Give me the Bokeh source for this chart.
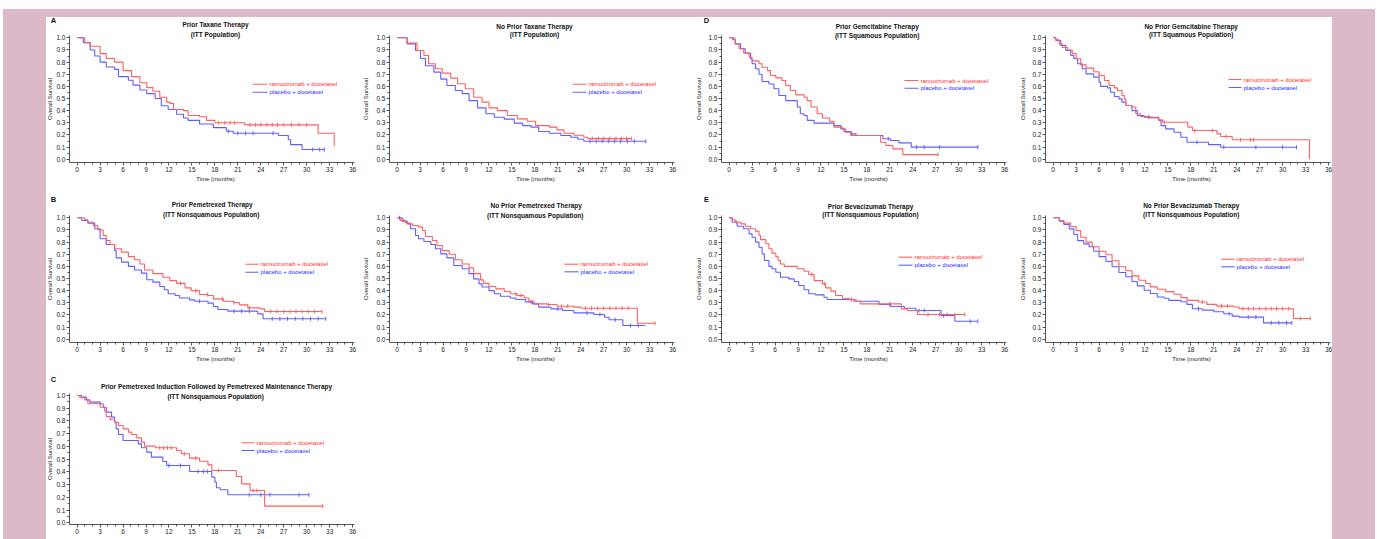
import numpy as np
from math import pi
from bokeh.plotting import figure
from bokeh.layouts import row, column
from bokeh.models import Spacer, Label, FixedTicker, PrintfTickFormatter
from bokeh.embed import file_html
from bokeh.resources import INLINE

# ---------------- data (months, survival) ----------------
LEGEND_RAM = "ramucirumab + docetaxel"
LEGEND_PBO = "placebo + docetaxel"
X_TICKS = list(range(0, 37, 3))
Y_TICKS = [round(0.1 * i, 1) for i in range(11)]

# A: Prior Taxane Therapy
taxp_ram_t = [1.0, 1.7, 3.0, 3.8, 4.9, 6.0, 7.1, 8.2, 9.1, 9.9, 10.8, 11.7, 12.1, 12.6, 13.9, 14.5, 16.0, 16.9, 18.0, 21.9, 31.5, 33.6]
taxp_ram_s = [0.96, 0.93, 0.87, 0.83, 0.80, 0.73, 0.68, 0.63, 0.59, 0.56, 0.51, 0.47, 0.46, 0.41, 0.40, 0.36, 0.35, 0.32, 0.30, 0.283, 0.214, 0.107]
taxp_ram_end = 33.6
taxp_ram_cens = [18.5, 19.3, 20.0, 20.6, 22.6, 23.3, 24.0, 24.8, 25.5, 26.2, 27.0, 28.0, 29.0, 30.0]
taxp_pbo_t = [0.8, 1.7, 2.3, 3.0, 3.8, 4.9, 5.4, 6.7, 7.3, 8.2, 9.1, 10.2, 11.0, 11.9, 13.0, 13.9, 14.5, 16.0, 17.8, 19.5, 20.4, 26.3, 27.6, 27.9, 29.4]
taxp_pbo_s = [0.96, 0.90, 0.85, 0.80, 0.76, 0.74, 0.68, 0.65, 0.61, 0.57, 0.54, 0.50, 0.44, 0.41, 0.37, 0.34, 0.32, 0.29, 0.26, 0.23, 0.214, 0.195, 0.16, 0.12, 0.08]
taxp_pbo_end = 32.3
taxp_pbo_cens = [19.8, 21.0, 22.0, 23.0, 25.6, 30.8, 31.7, 32.3]

# No Prior Taxane Therapy
taxn_ram_t = [1.3, 2.6, 3.5, 4.1, 5.0, 5.9, 7.0, 7.9, 8.9, 10.0, 11.1, 12.0, 13.1, 14.4, 15.7, 17.0, 18.1, 19.9, 20.9, 21.8, 23.1, 24.4, 24.9]
taxn_ram_s = [0.956, 0.896, 0.854, 0.786, 0.745, 0.709, 0.668, 0.621, 0.58, 0.51, 0.47, 0.423, 0.40, 0.36, 0.332, 0.313, 0.277, 0.264, 0.242, 0.214, 0.198, 0.181, 0.17]
taxn_ram_end = 30.6
taxn_ram_cens = [25.5, 26.3, 27.0, 27.8, 28.6, 29.3, 30.0, 30.6]
taxn_pbo_t = [1.3, 2.4, 3.05, 3.7, 4.8, 5.7, 6.5, 7.6, 8.5, 9.4, 10.5, 11.6, 12.7, 14.0, 15.3, 16.4, 17.5, 18.5, 19.9, 21.4, 22.7, 23.6, 24.4]
taxn_pbo_s = [0.95, 0.896, 0.83, 0.77, 0.717, 0.66, 0.607, 0.566, 0.54, 0.483, 0.423, 0.374, 0.346, 0.33, 0.297, 0.277, 0.264, 0.228, 0.214, 0.195, 0.181, 0.165, 0.148]
taxn_pbo_end = 32.5
taxn_pbo_cens = [25.2, 26.0, 26.8, 27.6, 28.4, 29.2, 30.1, 31.0, 32.5]

# D: Prior Gemcitabine Therapy
gemp_ram_t = [0.4, 0.8, 1.3, 1.9, 2.6, 3.0, 3.9, 4.3, 5.0, 5.4, 6.1, 6.9, 7.4, 8.0, 8.7, 9.8, 10.2, 10.7, 11.5, 12.2, 13.1, 13.7, 14.8, 15.2, 15.9, 19.8, 20.5, 21.4, 22.7]
gemp_ram_s = [0.984, 0.95, 0.91, 0.874, 0.84, 0.81, 0.786, 0.758, 0.73, 0.69, 0.67, 0.648, 0.607, 0.566, 0.53, 0.51, 0.483, 0.43, 0.374, 0.34, 0.313, 0.264, 0.25, 0.222, 0.195, 0.14, 0.113, 0.085, 0.038]
gemp_ram_end = 27.3
gemp_ram_cens = [27.3]
gemp_pbo_t = [0.6, 0.8, 1.5, 2.1, 2.8, 3.0, 3.45, 3.9, 4.3, 5.2, 5.85, 6.5, 7.4, 8.9, 9.3, 9.8, 10.2, 11.1, 13.7, 14.6, 15.0, 15.9, 16.6, 20.1, 21.1, 22.2, 23.8]
gemp_pbo_s = [0.99, 0.95, 0.91, 0.874, 0.827, 0.786, 0.745, 0.70, 0.64, 0.62, 0.58, 0.525, 0.483, 0.43, 0.374, 0.36, 0.32, 0.297, 0.277, 0.25, 0.228, 0.209, 0.195, 0.168, 0.154, 0.135, 0.10]
gemp_pbo_end = 32.5
gemp_pbo_cens = [16.0, 20.8, 24.5, 25.5, 27.5, 32.5]

# No Prior Gemcitabine Therapy
gemn_ram_t = [0.35, 0.8, 1.2, 1.9, 2.5, 3.0, 3.6, 4.3, 5.3, 6.0, 6.7, 7.3, 8.0, 8.4, 9.0, 9.3, 9.5, 10.3, 10.8, 11.4, 12.7, 13.8, 14.3, 17.6, 18.2, 21.4, 21.9, 23.4, 33.5]
gemn_ram_s = [0.984, 0.95, 0.92, 0.90, 0.87, 0.827, 0.777, 0.75, 0.72, 0.69, 0.648, 0.607, 0.588, 0.566, 0.525, 0.497, 0.442, 0.43, 0.374, 0.352, 0.34, 0.324, 0.305, 0.264, 0.236, 0.209, 0.187, 0.16, 0.0]
gemn_ram_end = 33.5
gemn_ram_cens = [6.0, 14.5, 18.5, 20.8, 22.6, 24.5, 25.8, 26.2]
gemn_pbo_t = [0.35, 1.0, 1.65, 2.3, 2.7, 3.2, 3.8, 4.3, 5.3, 6.0, 6.2, 7.1, 7.5, 8.0, 8.6, 9.0, 9.5, 10.3, 11.0, 11.9, 13.8, 14.1, 14.7, 15.8, 16.7, 17.5, 20.3, 21.9]
gemn_pbo_s = [0.978, 0.937, 0.896, 0.854, 0.827, 0.786, 0.745, 0.703, 0.676, 0.635, 0.60, 0.588, 0.552, 0.516, 0.497, 0.47, 0.442, 0.40, 0.36, 0.346, 0.319, 0.277, 0.25, 0.222, 0.181, 0.14, 0.12, 0.099]
gemn_pbo_end = 31.8
gemn_pbo_cens = [12.5, 18.8, 22.3, 26.5, 30.0, 31.8]

# B: Prior Pemetrexed Therapy
pemp_ram_t = [1.0, 1.4, 2.1, 2.7, 3.4, 3.8, 4.3, 4.9, 5.8, 6.7, 7.5, 8.2, 8.8, 9.9, 11.2, 12.1, 13.0, 14.1, 14.9, 16.0, 17.1, 17.8, 19.1, 20.4, 21.2, 22.3, 23.9, 24.5]
pemp_ram_s = [0.984, 0.964, 0.937, 0.90, 0.854, 0.813, 0.78, 0.745, 0.717, 0.68, 0.654, 0.62, 0.57, 0.54, 0.51, 0.483, 0.46, 0.423, 0.40, 0.368, 0.36, 0.332, 0.313, 0.302, 0.283, 0.258, 0.25, 0.228]
pemp_ram_end = 32.0
pemp_ram_cens = [13.5, 15.5, 17.0, 19.0, 20.5, 22.5, 25.3, 26.1, 27.0, 27.8, 28.6, 29.4, 30.2, 31.0, 32.0]
pemp_pbo_t = [0.6, 1.4, 2.3, 3.0, 3.8, 4.9, 5.1, 5.8, 6.7, 7.5, 8.4, 9.1, 9.9, 10.8, 11.4, 11.9, 12.8, 13.4, 14.7, 15.4, 17.1, 17.8, 18.4, 19.7, 23.6, 24.3]
pemp_pbo_s = [0.978, 0.956, 0.91, 0.827, 0.78, 0.73, 0.67, 0.635, 0.60, 0.57, 0.544, 0.49, 0.47, 0.434, 0.407, 0.374, 0.36, 0.34, 0.324, 0.313, 0.297, 0.27, 0.245, 0.231, 0.209, 0.168]
pemp_pbo_end = 32.5
pemp_pbo_cens = [16.0, 20.5, 21.5, 22.5, 25.5, 26.5, 27.5, 28.5, 29.5, 30.5, 31.5, 32.5]

# No Prior Pemetrexed Therapy
pemn_ram_t = [0.4, 1.1, 1.5, 2.0, 2.8, 3.3, 3.7, 4.6, 5.2, 5.9, 6.8, 7.6, 8.5, 9.4, 10.0, 10.9, 11.3, 12.0, 12.9, 14.0, 14.8, 15.7, 16.6, 17.2, 17.9, 19.6, 20.9, 23.1, 24.0, 31.4]
pemn_ram_s = [0.978, 0.96, 0.95, 0.937, 0.923, 0.896, 0.846, 0.813, 0.772, 0.73, 0.70, 0.654, 0.62, 0.588, 0.54, 0.489, 0.46, 0.434, 0.415, 0.393, 0.374, 0.36, 0.34, 0.313, 0.291, 0.286, 0.272, 0.264, 0.255, 0.132]
pemn_ram_end = 33.7
pemn_ram_cens = [0.8, 15.5, 16.2, 19.8, 21.5, 22.3, 24.6, 25.4, 26.2, 27.0, 27.8, 28.6, 29.4, 30.2, 33.7]
pemn_pbo_t = [0.65, 1.3, 1.75, 2.4, 2.8, 3.5, 4.4, 5.0, 5.7, 6.5, 7.4, 8.5, 9.4, 10.0, 10.7, 11.1, 12.0, 12.7, 13.5, 14.8, 15.5, 16.8, 17.7, 18.5, 20.1, 21.6, 23.1, 25.7, 27.1, 27.7, 29.5]
pemn_pbo_s = [0.973, 0.95, 0.91, 0.854, 0.827, 0.805, 0.78, 0.745, 0.703, 0.67, 0.607, 0.58, 0.54, 0.497, 0.456, 0.43, 0.40, 0.374, 0.354, 0.34, 0.327, 0.308, 0.291, 0.264, 0.25, 0.236, 0.217, 0.203, 0.181, 0.16, 0.113]
pemn_pbo_end = 32.4
pemn_pbo_cens = [0.3, 17.5, 21.0, 24.8, 26.5, 28.5, 30.5, 31.5]

# E: Prior Bevacizumab Therapy
bevp_ram_t = [0.4, 0.8, 1.5, 2.1, 2.8, 3.45, 3.9, 4.1, 4.8, 5.2, 5.6, 6.1, 6.4, 6.7, 7.2, 8.9, 9.8, 10.4, 11.1, 12.2, 12.6, 13.3, 13.9, 14.8, 15.7, 16.6, 17.2, 22.5, 23.3, 24.6]
bevp_ram_s = [0.984, 0.964, 0.95, 0.93, 0.91, 0.89, 0.854, 0.82, 0.786, 0.745, 0.709, 0.68, 0.648, 0.62, 0.60, 0.58, 0.56, 0.533, 0.483, 0.456, 0.423, 0.396, 0.36, 0.338, 0.327, 0.313, 0.291, 0.25, 0.236, 0.203]
bevp_ram_end = 30.8
bevp_ram_cens = [1.0, 10.8, 12.5, 16.0, 21.0, 26.0, 27.5, 28.5, 29.5, 30.8]
bevp_pbo_t = [0.4, 1.05, 1.9, 2.6, 3.0, 3.45, 3.9, 4.3, 4.6, 5.2, 5.6, 6.1, 6.7, 7.8, 8.5, 9.1, 9.8, 10.4, 11.3, 12.4, 12.8, 16.3, 19.6, 21.1, 22.9, 24.4, 27.7, 29.5]
bevp_pbo_s = [0.964, 0.93, 0.91, 0.868, 0.84, 0.80, 0.758, 0.703, 0.648, 0.60, 0.58, 0.552, 0.51, 0.497, 0.475, 0.442, 0.407, 0.374, 0.365, 0.346, 0.327, 0.313, 0.286, 0.269, 0.255, 0.236, 0.195, 0.148]
bevp_pbo_end = 32.5
bevp_pbo_cens = [16.0, 21.0, 24.8, 25.5, 28.0, 31.5, 32.5]

# No Prior Bevacizumab Therapy
bevn_ram_t = [0.8, 1.4, 2.3, 3.0, 3.6, 4.3, 5.1, 6.0, 6.9, 7.7, 8.6, 9.5, 10.3, 11.2, 12.1, 12.7, 13.6, 14.7, 15.8, 16.7, 17.5, 19.0, 20.1, 21.4, 23.6, 24.3, 31.4]
bevn_ram_s = [0.978, 0.956, 0.928, 0.895, 0.84, 0.80, 0.762, 0.724, 0.696, 0.646, 0.597, 0.564, 0.522, 0.486, 0.459, 0.431, 0.412, 0.392, 0.37, 0.343, 0.32, 0.307, 0.287, 0.273, 0.265, 0.251, 0.171]
bevn_ram_end = 33.6
bevn_ram_cens = [19.5, 22.0, 22.8, 24.8, 25.5, 26.2, 27.0, 27.8, 28.5, 29.2, 30.0, 30.8, 32.3, 33.6]
bevn_pbo_t = [0.8, 1.4, 2.1, 2.7, 3.2, 4.0, 4.7, 5.3, 6.0, 6.9, 7.7, 8.6, 9.5, 10.3, 11.0, 11.9, 12.7, 13.6, 14.5, 15.1, 16.7, 17.5, 18.2, 19.5, 21.0, 22.3, 23.4, 24.3, 27.5]
bevn_pbo_s = [0.972, 0.945, 0.909, 0.862, 0.812, 0.785, 0.762, 0.724, 0.68, 0.64, 0.597, 0.55, 0.514, 0.475, 0.439, 0.403, 0.376, 0.348, 0.337, 0.32, 0.309, 0.287, 0.251, 0.24, 0.226, 0.21, 0.19, 0.182, 0.135]
bevn_pbo_end = 31.2
bevn_pbo_cens = [19.0, 23.0, 25.5, 26.5, 28.5, 29.5, 30.5, 31.2]

# C: Prior Pemetrexed Induction Followed by Pemetrexed Maintenance
pemm_ram_t = [0.35, 1.0, 1.4, 3.0, 3.6, 3.8, 4.3, 4.9, 5.4, 6.0, 6.7, 7.1, 7.8, 8.4, 8.8, 10.2, 13.0, 13.6, 14.7, 16.0, 17.1, 17.6, 20.8, 21.5, 22.6, 24.5]
pemm_ram_s = [0.982, 0.966, 0.935, 0.908, 0.877, 0.835, 0.809, 0.79, 0.764, 0.738, 0.712, 0.694, 0.667, 0.634, 0.602, 0.589, 0.568, 0.542, 0.508, 0.484, 0.455, 0.411, 0.364, 0.306, 0.254, 0.131]
pemm_ram_end = 32.1
pemm_ram_cens = [10.8, 11.3, 11.8, 12.3, 14.0, 15.5, 18.5, 23.0, 23.5, 32.1]
pemm_pbo_t = [0.55, 1.2, 1.65, 3.0, 3.4, 3.8, 4.5, 4.9, 5.1, 5.4, 6.0, 8.0, 8.4, 9.1, 9.7, 11.2, 11.7, 14.7, 17.6, 18.0, 18.2, 18.7, 19.7]
pemm_pbo_s = [0.987, 0.966, 0.948, 0.935, 0.908, 0.869, 0.83, 0.79, 0.738, 0.694, 0.647, 0.62, 0.589, 0.555, 0.516, 0.482, 0.45, 0.403, 0.359, 0.319, 0.275, 0.259, 0.22]
pemm_pbo_end = 30.3
pemm_pbo_cens = [12.0, 13.5, 15.8, 16.5, 17.0, 22.5, 24.0, 25.2, 29.0, 30.3]

# ---------------- style / layout ----------------
PINK = "#dbb9c8"
RED_LINE, BLUE_LINE = "#ff5f5f", "#5f5fff"
RED_TXT, BLUE_TXT = "#ff2a2a", "#2a2aff"
AXIS_C = "#555555"
FONT = "Liberation Sans"
AX_W = 285                 # width of the axis box in px
X_AX = (-1.0, 36.25)       # axis extent in months

# columns: (figure left, figure width, y-axis position) in page px
COLS = [(46, 313, 69), (359, 333, 389), (692, 323, 721), (1015, 317, 1045)]
# rows: (figure top, figure height, axis box top, axis box height, y extent)
ROWS = [(17, 167, 35, 127, (-0.027, 1.019)),
        (184, 178, 215, 127, (-0.027, 1.019)),
        (362, 177, 393, 131, (-0.0134, 1.0157))]

PANELS = [
    dict(col=0, row=0, letter=("A", 53, 20), title=("Prior Taxane Therapy", "(ITT Population)", 215, 24, 34),
         leg=(252, 267, 83.7, 91.7), xl=(215, 178), yl=49,
         ram=(taxp_ram_t, taxp_ram_s, taxp_ram_end, taxp_ram_cens), pbo=(taxp_pbo_t, taxp_pbo_s, taxp_pbo_end, taxp_pbo_cens)),
    dict(col=1, row=0, letter=None, title=("No Prior Taxane Therapy", "(ITT Population)", 534, 25.7, 34.3),
         leg=(572, 586, 83.7, 91.7), xl=(535, 178), yl=365,
         ram=(taxn_ram_t, taxn_ram_s, taxn_ram_end, taxn_ram_cens), pbo=(taxn_pbo_t, taxn_pbo_s, taxn_pbo_end, taxn_pbo_cens)),
    dict(col=2, row=0, letter=("D", 706, 20), title=("Prior Gemcitabine Therapy", "(ITT Squamous Population)", 876.7, 26, 34.7),
         leg=(904, 918, 80, 87.7), xl=(868, 178), yl=698,
         ram=(gemp_ram_t, gemp_ram_s, gemp_ram_end, gemp_ram_cens), pbo=(gemp_pbo_t, gemp_pbo_s, gemp_pbo_end, gemp_pbo_cens)),
    dict(col=3, row=0, letter=None, title=("No Prior Gemcitabine Therapy", "(ITT Squamous Population)", 1190.7, 26, 34.3),
         leg=(1228, 1241, 79, 87), xl=(1191, 178), yl=1022,
         ram=(gemn_ram_t, gemn_ram_s, gemn_ram_end, gemn_ram_cens), pbo=(gemn_pbo_t, gemn_pbo_s, gemn_pbo_end, gemn_pbo_cens)),
    dict(col=0, row=1, letter=("B", 53, 199.3), title=("Prior Pemetrexed Therapy", "(ITT  Nonsquamous Population)", 211.7, 204.3, 214.3),
         leg=(245, 258, 263.7, 271.7), xl=(215, 358), yl=49,
         ram=(pemp_ram_t, pemp_ram_s, pemp_ram_end, pemp_ram_cens), pbo=(pemp_pbo_t, pemp_pbo_s, pemp_pbo_end, pemp_pbo_cens)),
    dict(col=1, row=1, letter=None, title=("No Prior Pemetrexed Therapy", "(ITT  Nonsquamous Population)", 535.7, 205, 214.7),
         leg=(564, 578, 263.7, 271.3), xl=(535, 358), yl=365,
         ram=(pemn_ram_t, pemn_ram_s, pemn_ram_end, pemn_ram_cens), pbo=(pemn_pbo_t, pemn_pbo_s, pemn_pbo_end, pemn_pbo_cens)),
    dict(col=2, row=1, letter=("E", 706, 199.3), title=("Prior Bevacizumab Therapy", "(ITT Nonsquamous Population)", 870, 205.7, 214),
         leg=(898, 912, 256.7, 264.7), xl=(868, 358), yl=698,
         ram=(bevp_ram_t, bevp_ram_s, bevp_ram_end, bevp_ram_cens), pbo=(bevp_pbo_t, bevp_pbo_s, bevp_pbo_end, bevp_pbo_cens)),
    dict(col=3, row=1, letter=None, title=("No Prior Bevacizumab Therapy", "(ITT Nonsquamous Population)", 1190.7, 205.3, 214),
         leg=(1221, 1234, 258.7, 266.3), xl=(1191, 358), yl=1022,
         ram=(bevn_ram_t, bevn_ram_s, bevn_ram_end, bevn_ram_cens), pbo=(bevn_pbo_t, bevn_pbo_s, bevn_pbo_end, bevn_pbo_cens)),
    dict(col=0, row=2, letter=("C", 53, 378.7),
         title=("Prior Pemetrexed Induction Followed by Pemetrexed Maintenance Therapy", "(ITT  Nonsquamous Population)", 216, 386, 395.7),
         leg=(241, 254, 442.3, 450), xl=(215, 542), yl=49,
         ram=(pemm_ram_t, pemm_ram_s, pemm_ram_end, pemm_ram_cens), pbo=(pemm_pbo_t, pemm_pbo_s, pemm_pbo_end, pemm_pbo_cens)),
]


def km_xy(t, s, end):
    return [0.0] + list(t) + [end], [1.0] + list(s) + [s[-1]]


def surv_at(t, s, times):
    idx = np.searchsorted(np.asarray(t), np.asarray(times), side="right") - 1
    return [1.0 if i < 0 else s[i] for i in idx]


def make_panel(spec):
    fl_page, fw, ax_l = COLS[spec["col"]]
    ft_page, fh, ax_t, ax_h, yr = ROWS[spec["row"]]
    x0, x1 = X_AX
    y0, y1 = yr

    def dx(px):
        return x0 + (px - ax_l) / AX_W * (x1 - x0)

    def dy(py):
        return y1 - (py - ax_t) / ax_h * (y1 - y0)

    # the frame covers the whole figure; the axes sit at fixed data locations
    p = figure(width=fw, height=fh,
               x_range=(dx(fl_page), dx(fl_page + fw)),
               y_range=(dy(ft_page + fh), dy(ft_page)),
               output_backend="svg", toolbar_location=None,
               min_border=0, min_border_left=0, min_border_right=0,
               min_border_top=0, min_border_bottom=0)
    p.background_fill_color = "white"
    p.border_fill_color = "white"
    p.outline_line_color = None
    p.grid.visible = False

    xa, ya = p.xaxis[0], p.yaxis[0]
    xa.fixed_location = y0
    xa.bounds = (x0, x1)
    ya.fixed_location = x0
    ya.bounds = (y0, y1)
    xa.ticker = FixedTicker(ticks=X_TICKS, minor_ticks=list(range(0, 37)))
    ya.ticker = FixedTicker(ticks=Y_TICKS, minor_ticks=[round(0.05 * i, 2) for i in range(21)])
    ya.formatter = PrintfTickFormatter(format="%.1f")
    for ax in (xa, ya):
        ax.axis_line_color = AXIS_C
        ax.axis_line_width = 1
        ax.major_tick_line_color = AXIS_C
        ax.minor_tick_line_color = AXIS_C
        ax.major_tick_in = 0
        ax.major_tick_out = 3
        ax.minor_tick_in = 0
        ax.minor_tick_out = 2
        ax.major_label_text_font = FONT
        ax.major_label_text_font_size = "6.5px"
        ax.major_label_text_color = "#222222"
        ax.major_label_standoff = 1

    # curves
    for (t, s, end, cens), lc in ((spec["pbo"], BLUE_LINE), (spec["ram"], RED_LINE)):
        xs, ys = km_xy(t, s, end)
        p.step(xs, ys, mode="after", line_color=lc, line_width=1.1)
        p.scatter(cens, surv_at(t, s, cens), marker="dash", angle=pi / 2, size=4,
                  line_color=lc, line_width=1)

    # legend
    lx0, lx1, ly_r, ly_b = spec["leg"]
    for ly, lc, tc, txt in ((ly_r, RED_LINE, RED_TXT, LEGEND_RAM), (ly_b, BLUE_LINE, BLUE_TXT, LEGEND_PBO)):
        p.line([dx(lx0), dx(lx1)], [dy(ly), dy(ly)], line_color=lc, line_width=1.1)
        p.add_layout(Label(x=dx(lx1 + 2), y=dy(ly), text=txt, text_font=FONT, text_font_size="6px",
                           text_color=tc, text_align="left", text_baseline="middle"))

    # titles
    t1, t2, tcx, ty1, ty2 = spec["title"]
    for txt, ty in ((t1, ty1), (t2, ty2)):
        p.add_layout(Label(x=dx(tcx), y=dy(ty), text=txt, text_font=FONT, text_font_size="6.5px",
                           text_font_style="bold", text_color="#111111",
                           text_align="center", text_baseline="middle"))
    if spec["letter"]:
        lt, lxp, lyp = spec["letter"]
        p.add_layout(Label(x=dx(lxp), y=dy(lyp), text=lt, text_font=FONT, text_font_size="7.5px",
                           text_font_style="bold", text_color="#111111",
                           text_align="center", text_baseline="middle"))
    # axis titles
    xlx, xly = spec["xl"]
    p.add_layout(Label(x=dx(xlx), y=dy(xly), text="Time (months)", text_font=FONT, text_font_size="6px",
                       text_color="#222222", text_align="center", text_baseline="middle"))
    p.add_layout(Label(x=dx(spec["yl"]), y=dy(ax_t + ax_h / 2), text="Overall Survival", angle=pi / 2,
                       text_font=FONT, text_font_size="6px", text_color="#222222",
                       text_align="center", text_baseline="middle"))
    return p


figs = [make_panel(s) for s in PANELS]
pink = {"background-color": PINK}
body = column(row(*figs[0:4]), row(*figs[4:8]), row(figs[8]))
framed = column(Spacer(width=1372, height=8, styles=pink),
                row(Spacer(width=43, height=522, styles=pink), body,
                    Spacer(width=43, height=522, styles=pink)))
root = column(Spacer(width=1375, height=9), row(Spacer(width=3, height=530), framed))

open("out.html", "w").write(file_html(root, INLINE))
